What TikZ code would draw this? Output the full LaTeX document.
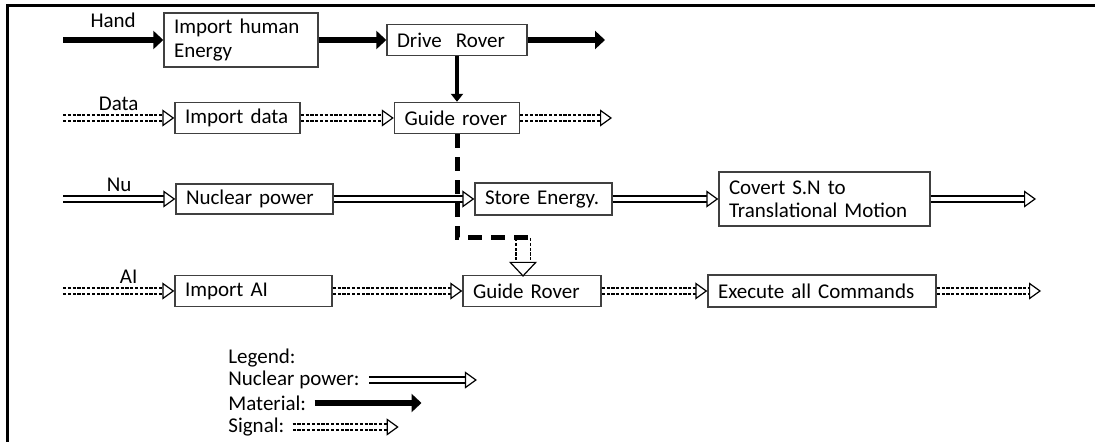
\documentclass[tikz,border=0pt]{standalone}
\usepackage{fontspec}
\setmainfont{Carlito}
\usetikzlibrary{arrows.meta}

\begin{document}
\begin{tikzpicture}[x=0.5pt,y=-0.5pt,
    font=\fontsize{10.5}{11.7}\selectfont,
    blk/.style={draw=black!75,line width=0.7pt,align=left,inner xsep=5pt,inner ysep=0pt},
    matarr/.style={line width=3.2pt,-{Triangle[length=5pt,width=9pt]}},
    nuarr/.style={double,double distance=2.4pt,line width=0.6pt,
      -{Triangle[open,length=6pt,width=8.5pt,line width=0.6pt,fill=white]}},
    sigarr/.style={nuarr,dash pattern=on 1.6pt off 0.8pt},
    bigsig/.style={double,double distance=6.5pt,line width=0.6pt,dash pattern=on 1.6pt off 0.8pt,
      -{Triangle[open,length=7.5pt,width=14pt,line width=0.6pt,fill=white]}},
    cmdline/.style={line width=2.5pt,dash pattern=on 7pt off 4.5pt}]
    \useasboundingbox (0,0) rectangle (1095,442);
    \draw[line width=1.5pt] (7,442) -- (7,6) -- (1095,6);

    % function blocks
    \node[blk,text width=67pt,minimum height=27pt] (human) at (241,40) {Import human\\Energy};
    \node[blk,text width=60pt,minimum height=15.5pt] (drive) at (457,40) {Drive\ \ Rover};
    \node[blk,text width=52.5pt,minimum height=15.5pt] (data) at (237.5,118) {Import data};
    \node[blk,text width=52.5pt,minimum height=15.5pt] (guideA) at (457,118) {Guide rover};
    \node[blk,text width=68.5pt,minimum height=15pt] (nuc) at (254.5,199) {Nuclear power};
    \node[blk,text width=58.5pt,minimum height=16pt] (store) at (543.5,199) {Store Energy.};
    \node[blk,text width=95.5pt,minimum height=27pt] (conv) at (824.5,199) {Covert S.N to\\Translational Motion};
    \node[blk,text width=68.5pt,minimum height=15.5pt] (impai) at (253.5,291) {Import AI};
    \node[blk,text width=59pt,minimum height=15.5pt] (guideB) at (532,291) {Guide Rover};
    \node[blk,text width=104pt,minimum height=16pt] (exec) at (822,291) {Execute all Commands};

    \coordinate (handin) at (63,40);
    \coordinate (driveout) at (605,40);
    \coordinate (datain) at (63,118);
    \coordinate (guideout) at (612,118);
    \coordinate (nuin) at (63,199);
    \coordinate (convout) at (1036,199);
    \coordinate (aiin) at (63,291);
    \coordinate (execout) at (1041,291);
    \coordinate (turn) at (530,238);
    \coordinate (sigtop) at (523,238);

    % material
    \draw[matarr] (handin) -- (human) node[midway,above,yshift=1pt] (lhand) {Hand};
    \draw[matarr] (human) -- (drive);
    \draw[matarr] (drive) -- (driveout);
    \draw[line width=2pt,-{Triangle[length=4pt,width=6pt]}] (drive) -- (guideA);

    % signal and nuclear power
    \draw[sigarr] (datain) -- (data) node[midway,above] (ldata) {Data};
    \draw[sigarr] (data) -- (guideA);
    \draw[sigarr] (guideA) -- (guideout);
    \draw[nuarr] (nuin) -- (nuc) node[midway,above] (lnu) {Nu};
    \draw[nuarr] (nuc) -- (store);
    \draw[nuarr] (store) -- (conv);
    \draw[nuarr] (conv) -- (convout);
    \draw[sigarr] (aiin) -- (impai) node[midway,above,xshift=5pt] (lai) {AI};
    \draw[sigarr] (impai) -- (guideB);
    \draw[sigarr] (guideB) -- (exec);
    \draw[sigarr] (exec) -- (execout);

    \draw[bigsig] (sigtop) -- ([yshift=-1pt]sigtop |- guideB.north);
    \draw[cmdline] (guideA.south) |- (turn);

    % legend
    \node[anchor=west,inner sep=0pt] (legend) at (228,358) {Legend:};
    \node[anchor=west,inner sep=0pt] (legnu) at (228,380) {Nuclear power:};
    \node[anchor=west,inner sep=0pt] (legmat) at (228,403) {Material:};
    \node[anchor=west,inner sep=0pt] (legsig) at (228,427) {Signal:};
    \draw[nuarr] ([xshift=4.5pt]legnu.east) -- ++(108,0);
    \draw[matarr] ([xshift=4pt]legmat.east) -- ++(107,0);
    \draw[sigarr] ([xshift=4pt]legsig.east) -- ++(106,0);
\end{tikzpicture}
\end{document}
